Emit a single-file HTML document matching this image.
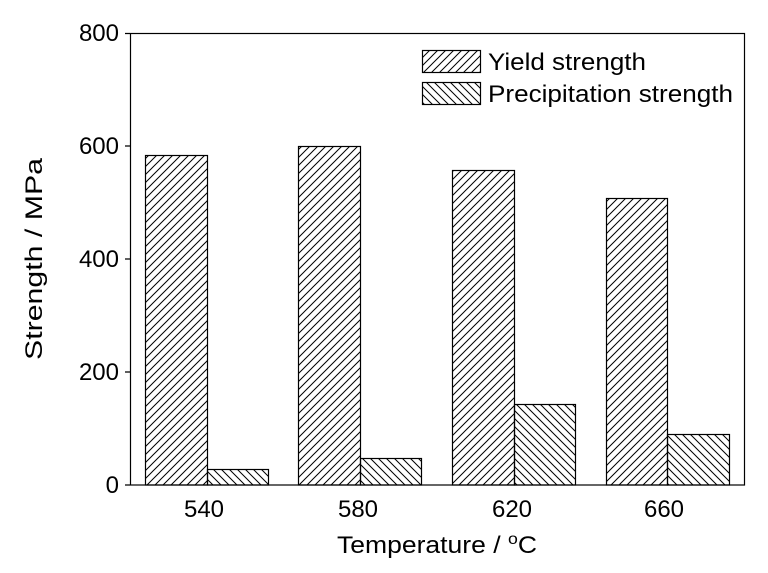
<!DOCTYPE html><html><head><style>body{margin:0;background:#fff}</style></head><body>
<svg width="768" height="568" xmlns="http://www.w3.org/2000/svg" font-family="Liberation Sans, Arial, sans-serif">
<defs>
<pattern id="f" width="8" height="8" patternUnits="userSpaceOnUse"><path d="M-2,2 L2,-2 M0,8 L8,0 M6,10 L10,6" stroke="#000" stroke-width="1"/></pattern>
<pattern id="b" width="8" height="8" patternUnits="userSpaceOnUse"><path d="M-2,6 L2,10 M0,0 L8,8 M6,-2 L10,2" stroke="#000" stroke-width="1"/></pattern>
</defs>
<rect x="130.5" y="33.5" width="614" height="451.5" fill="none" stroke="#000" stroke-width="1.2"/>
<g stroke="#000" stroke-width="1.2" fill="none">
<rect x="145.5" y="155.5" width="62" height="329.5" fill="url(#f)"/>
<rect x="207.5" y="469.5" width="61" height="15.5" fill="url(#b)"/>
<rect x="298.5" y="146.5" width="62" height="338.5" fill="url(#f)"/>
<rect x="360.5" y="458.5" width="61" height="26.5" fill="url(#b)"/>
<rect x="452.5" y="170.5" width="62" height="314.5" fill="url(#f)"/>
<rect x="514.5" y="404.5" width="61" height="80.5" fill="url(#b)"/>
<rect x="606.5" y="198.5" width="61" height="286.5" fill="url(#f)"/>
<rect x="667.5" y="434.5" width="62" height="50.5" fill="url(#b)"/>
<rect x="422.5" y="50.5" width="58" height="22" fill="url(#f)"/>
<rect x="422.5" y="82.5" width="58" height="22" fill="url(#b)"/>
<path d="M125 485h5M125 372h5M125 259h5M125 146h5M125 33.5h5"/>
</g>
<g font-size="24" fill="#000">
<text x="119" y="493" text-anchor="end">0</text>
<text x="119" y="380" text-anchor="end">200</text>
<text x="119" y="267" text-anchor="end">400</text>
<text x="119" y="154" text-anchor="end">600</text>
<text x="119" y="41" text-anchor="end">800</text>
<text x="204" y="517" text-anchor="middle">540</text>
<text x="358" y="517" text-anchor="middle">580</text>
<text x="512" y="517" text-anchor="middle">620</text>
<text x="664" y="517" text-anchor="middle">660</text>
<text x="488" y="70" textLength="158" lengthAdjust="spacingAndGlyphs">Yield strength</text>
<text x="488" y="102" textLength="245" lengthAdjust="spacingAndGlyphs">Precipitation strength</text>
<text x="337" y="553" textLength="200" lengthAdjust="spacingAndGlyphs">Temperature / <tspan dy="-9" font-size="16">o</tspan><tspan dy="9">C</tspan></text>
<text transform="translate(42,259) rotate(-90)" text-anchor="middle" textLength="202" lengthAdjust="spacingAndGlyphs">Strength / MPa</text>
</g>
</svg></body></html>
